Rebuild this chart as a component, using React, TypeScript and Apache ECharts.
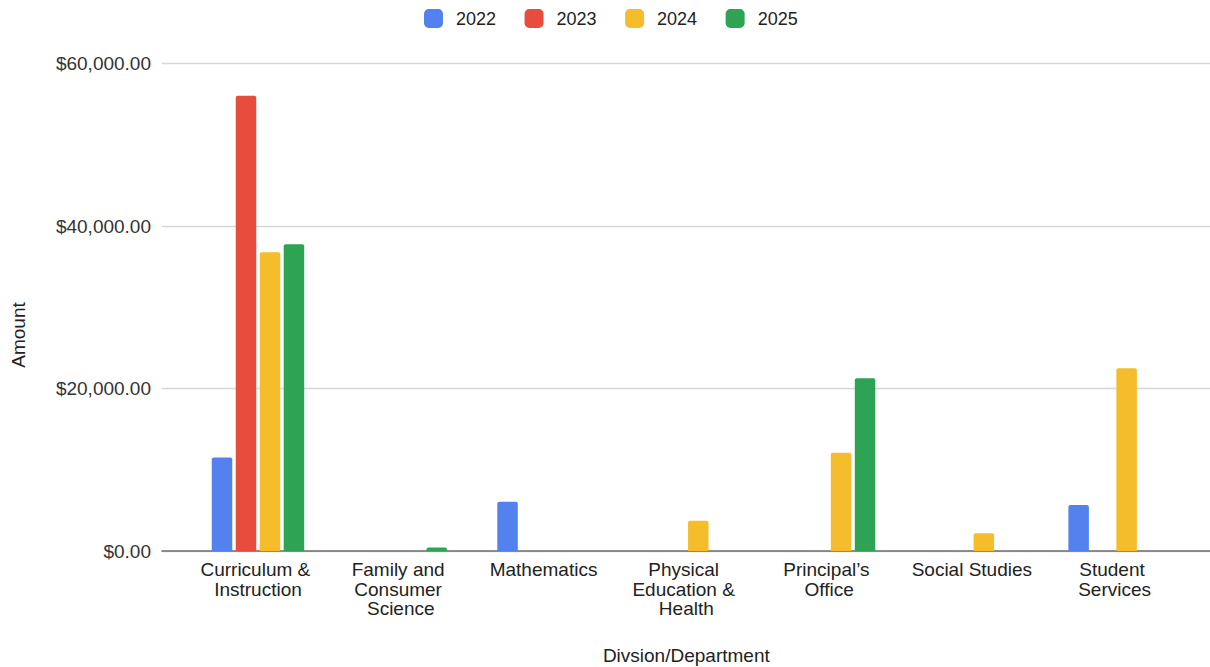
import React, { useEffect, useRef } from "react";
import * as echarts from "echarts";

const categories = [
  "Curriculum & Instruction",
  "Family and Consumer Science",
  "Mathematics",
  "Physical Education & Health",
  "Principal’s Office",
  "Social Studies",
  "Student Services",
];
const years = ["2022", "2023", "2024", "2025"];
const values2022 = [11500, 0, 6070, 0, 0, 0, 5660];
const values2023 = [56050, 0, 0, 0, 0, 0, 0];
const values2024 = [36780, 0, 0, 3730, 12100, 2180, 22490];
const values2025 = [37760, 420, 0, 0, 21260, 0, 0];
const yTicks = [0, 20000, 40000, 60000];
const colors = ["#5381ee", "#e74c3c", "#f5bd2b", "#2ea354"];

const FONT = "'Liberation Sans', Arial, sans-serif";

function money(v: number): string {
  return "$" + v.toLocaleString("en-US", { minimumFractionDigits: 2, maximumFractionDigits: 2 });
}

export default function App() {
  const ref = useRef<HTMLDivElement>(null);
  useEffect(() => {
    if (!ref.current) return;
    const chart = echarts.init(ref.current, undefined, { renderer: "svg" });
    const allSeries = [values2022, values2023, values2024, values2025];
    const yMax = yTicks[yTicks.length - 1];
    const yInterval = yTicks[1] - yTicks[0];
    chart.setOption({
      animation: false,
      backgroundColor: "#ffffff",
      textStyle: { fontFamily: FONT },
      legend: {
        data: years,
        left: 419,
        top: 4,
        itemWidth: 19,
        itemHeight: 19,
        itemGap: 28.5,
        icon: "roundRect",
        textStyle: { fontSize: 18, color: "#222", fontFamily: FONT, padding: [0, 0, 0, 8] },
      },
      grid: [
        { left: 162, right: 0, top: 63.7, bottom: 116, containLabel: false, outerBoundsMode: "none" },
        { left: 186.6, right: 24, top: 63.7, bottom: 116, containLabel: false, outerBoundsMode: "none" },
      ],
      xAxis: [
        {
          type: "value",
          gridIndex: 0,
          min: 0,
          max: 1,
          axisLine: { show: true, onZero: false, lineStyle: { color: "#6e6e6e", width: 1.6 } },
          axisTick: { show: false },
          axisLabel: { show: false },
          splitLine: { show: false },
        },
        {
          type: "category",
          gridIndex: 1,
          data: categories,
          axisLine: { show: false },
          axisTick: { show: false },
          axisLabel: {
            interval: 0,
            fontSize: 19,
            lineHeight: 19.5,
            color: "#222",
            fontFamily: FONT,
            margin: 9,
            width: 132,
            overflow: "break",
          },
          name: "Divsion/Department",
          nameLocation: "middle",
          nameGap: 95,
          nameTextStyle: { fontSize: 19, color: "#222", fontFamily: FONT },
        },
      ],
      yAxis: [
        {
          type: "value",
          gridIndex: 0,
          min: 0,
          max: yMax,
          interval: yInterval,
          axisLine: { show: false },
          axisTick: { show: false },
          axisLabel: {
            fontSize: 19,
            color: "#333",
            fontFamily: FONT,
            margin: 11,
            formatter: (v: number) => money(v),
          },
          splitLine: { show: true, lineStyle: { color: "#d6d6d6", width: 1.4 } },
        },
        {
          type: "value",
          gridIndex: 1,
          min: 0,
          max: yMax,
          interval: yInterval,
          axisLine: { show: false },
          axisTick: { show: false },
          axisLabel: { show: false },
          splitLine: { show: false },
        },
      ],
      graphic: [
        {
          type: "text",
          x: 18,
          y: 335,
          rotation: Math.PI / 2,
          style: {
            text: "Amount",
            fontSize: 19,
            fill: "#222",
            fontFamily: FONT,
            align: "center",
            verticalAlign: "middle",
          },
        },
      ],
      series: years.map((y, i) => ({
        name: y,
        type: "bar",
        xAxisIndex: 1,
        yAxisIndex: 1,
        data: allSeries[i],
        barWidth: 20.5,
        barGap: "17%",
        itemStyle: { color: colors[i], borderRadius: [2, 2, 0, 0] },
      })),
    });
    return () => chart.dispose();
  }, []);
  return (
    <div
      ref={ref}
      style={{ position: "fixed", left: 0, top: 0, width: 1210, height: 667, background: "#fff" }}
    />
  );
}
